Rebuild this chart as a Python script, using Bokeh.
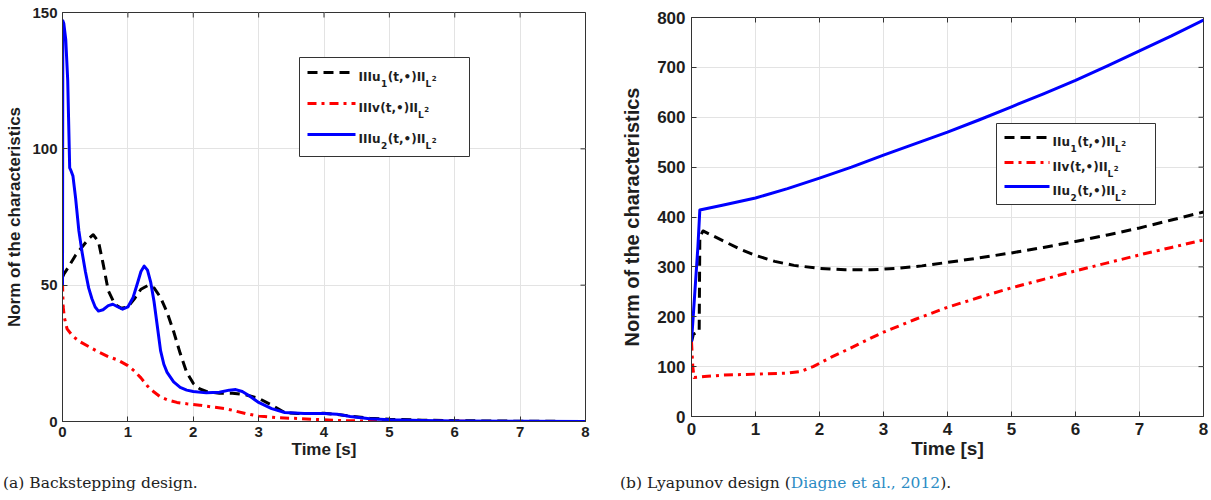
from bokeh.plotting import figure
from bokeh.models import Range1d, FixedTicker, Div
from bokeh.layouts import row, column
from bokeh.core.properties import value
from bokeh.embed import file_html
from bokeh.resources import INLINE

# ---------------- data: (a) Backstepping design ----------------
ta_u1 = [0.0, 0.02, 0.1, 0.2, 0.3, 0.4, 0.47, 0.55, 0.62, 0.7, 0.8, 0.9, 1.0, 1.1, 1.2, 1.3, 1.4,
         1.5, 1.6, 1.7, 1.8, 1.9, 2.0, 2.1, 2.2, 2.4, 2.6, 2.8, 3.0, 3.2, 3.4, 3.6, 4.0, 4.2, 4.4,
         4.7, 5.0, 5.5, 6.0, 7.0, 8.0]
a_u1 = [53, 54, 57, 61, 64, 67, 68.5, 66, 58, 48, 43, 41.5, 42, 45, 48.5, 49.8, 49, 45.5, 40, 33,
        25, 18, 14, 12, 11, 10.4, 10.4, 9.8, 8.5, 6, 3.3, 2.9, 3.0, 2.6, 2.0, 1.2, 0.8, 0.5, 0.3,
        0.1, 0.0]

ta_u2 = [0.0, 0.005, 0.02, 0.05, 0.08, 0.11, 0.13, 0.16, 0.2, 0.25, 0.3, 0.35, 0.4, 0.45, 0.5,
         0.55, 0.62, 0.7, 0.77, 0.85, 0.92, 1.0, 1.08, 1.15, 1.2, 1.25, 1.3, 1.35, 1.4, 1.45, 1.5,
         1.55, 1.6, 1.7, 1.8, 1.9, 2.0, 2.2, 2.4, 2.55, 2.65, 2.75, 2.85, 3.0, 3.2, 3.4, 3.7, 4.0,
         4.2, 4.4, 4.7, 5.0, 5.5, 6.0, 7.0, 8.0]
a_u2 = [50, 147, 146, 140, 125, 93, 92, 90, 82, 70, 62, 55, 49, 45, 42, 40.5, 41, 42.5, 43, 42,
        41.2, 42, 45.5, 51, 55, 57, 55.5, 51, 44, 35, 26, 21, 18, 14.5, 12.5, 11.5, 11, 10.5, 10.7,
        11.5, 11.7, 11, 9.5, 7, 4.7, 3.3, 2.9, 2.9, 2.7, 1.8, 1.0, 0.6, 0.4, 0.2, 0.1, 0.0]

ta_v = [0.0, 0.01, 0.03, 0.07, 0.15, 0.25, 0.4, 0.55, 0.7, 0.85, 1.0, 1.1, 1.2, 1.3, 1.4, 1.5,
        1.6, 1.75, 1.9, 2.1, 2.3, 2.5, 2.65, 2.8, 3.0, 3.3, 3.6, 4.0, 4.3, 5.0, 6.0, 8.0]
a_v = [51, 42, 38, 34, 31.5, 29.5, 27.5, 25.5, 23.8, 22.5, 20.5, 18.5, 16, 13, 10.8, 9, 8, 7, 6.5,
       6, 5.3, 4.7, 3.8, 2.9, 2, 1.4, 1.1, 0.6, 0.3, 0.1, 0.05, 0.0]

# ---------------- data: (b) Lyapunov design ----------------
tb_u1 = [0.0, 0.03, 0.08, 0.12, 0.13, 0.18, 0.5, 0.75, 1.0, 1.3, 1.6, 2.0, 2.4, 2.8, 3.2, 3.6,
         4.0, 4.5, 5.0, 5.5, 6.0, 6.5, 7.0, 7.5, 8.0]
b_u1 = [150, 165, 168, 170, 360, 372, 352, 336, 323, 311, 303, 297, 294, 294, 297, 302, 309, 318,
        328, 339, 351, 364, 378, 394, 410]

tb_u2 = [0.0, 0.05, 0.1, 0.13, 0.5, 1.0, 1.5, 2.0, 2.5, 3.0, 3.5, 4.0, 4.5, 5.0, 5.5, 6.0, 6.5,
         7.0, 7.5, 8.0]
b_u2 = [150, 245, 340, 414, 424, 438, 457, 478, 500, 524, 547, 570, 595, 621, 647, 674, 703, 733,
        763, 795]

tb_v = [0.0, 0.02, 0.04, 0.2, 0.5, 1.0, 1.5, 1.7, 1.9, 2.2, 2.5, 2.8, 3.0, 3.5, 4.0, 4.5, 5.0,
        5.5, 6.0, 6.5, 7.0, 7.5, 8.0]
b_v = [150, 100, 78, 80, 83, 85, 87, 90, 100, 120, 138, 157, 169, 195, 219, 239, 258, 275, 292,
       308, 324, 339, 354]

# ---------------- ticks / texts ----------------
X_MAX = 8
X_TICKS = [0, 1, 2, 3, 4, 5, 6, 7, 8]
YA_MAX = 150
YA_TICKS = [0, 50, 100, 150]
YB_MAX = 800
YB_TICKS = [0, 100, 200, 300, 400, 500, 600, 700, 800]

XLABEL = "Time [s]"
YLABEL = "Norm of the characteristics"
CAPTION_A = "(a) Backstepping design."
CAPTION_B_PRE = "(b) Lyapunov design ("
CAPTION_B_REF = "Diagne et al., 2012"
CAPTION_B_POST = ")."

# legend label pieces: (text, role) role: m = main, sub = subscript, sup = superscript
LEG_A = [
    ("u1", [("IIIu", "m"), ("1", "sub"), ("(t,•)II", "m"), ("L", "sub"), ("2", "sup")]),
    ("v", [("IIIv", "m"), ("(t,•)II", "m"), ("L", "sub"), ("2", "sup")]),
    ("u2", [("IIIu", "m"), ("2", "sub"), ("(t,•)II", "m"), ("L", "sub"), ("2", "sup")]),
]
LEG_B = [
    ("u1", [("IIu", "m"), ("1", "sub"), ("(t,•)II", "m"), ("L", "sub"), ("2", "sup")]),
    ("v", [("IIv", "m"), ("(t,•)II", "m"), ("L", "sub"), ("2", "sup")]),
    ("u2", [("IIu", "m"), ("2", "sub"), ("(t,•)II", "m"), ("L", "sub"), ("2", "sup")]),
]

# ---------------- styles ----------------
STYLE = {
    "u1": dict(color="#000000", dash="10 6"),
    "v": dict(color="#ff0000", dash="9 5 3 5"),
    "u2": dict(color="#0000ff", dash="solid"),
}
AXIS_COLOR = "#333333"
TEXT_COLOR = "#1e1e1e"
GRID_COLOR = "#e3e3e3"
FONT = "Liberation Sans"
LEG_FONT = "DejaVu Sans"
ROLE_SIZE = {"m": 12, "sub": 9, "sup": 7}
ROLE_DY = {"m": 0.0, "sub": 7.0, "sup": 1.5}   # px downward from row baseline
# DejaVu Sans Bold advance widths (per 1000 em) for legend layout
ADV = {"I": 372, "u": 712, "v": 652, "(": 457, "t": 478, ",": 380, "•": 590, ")": 457,
       "L": 637, "1": 696, "2": 696}
TICK_LEN = 5  # px, inward ticks on the top / right edges


def make_panel(series, ymax, yticks, fw, fh, borders, sizes, standoffs, legend, leg_rows,
               margin=0):
    bl, br, bt, bb = borders
    tick_sz, xlab_sz, ylab_sz = sizes
    p = figure(frame_width=fw, frame_height=fh, title=None,
               x_range=Range1d(0, X_MAX), y_range=Range1d(0, ymax),
               output_backend="svg", toolbar_location=None, margin=margin,
               min_border_left=bl, min_border_right=br, min_border_top=bt, min_border_bottom=bb)
    p.background_fill_color = "white"
    p.border_fill_color = "white"
    p.outline_line_color = AXIS_COLOR
    p.outline_line_width = 1

    sx = X_MAX / fw
    sy = ymax / fh

    def dx(px):
        return px * sx

    def dy(py):
        return ymax - py * sy

    # grid
    p.xgrid.ticker = FixedTicker(ticks=X_TICKS, minor_ticks=[])
    p.ygrid.ticker = FixedTicker(ticks=yticks, minor_ticks=[])
    p.grid.grid_line_color = GRID_COLOR
    p.grid.grid_line_width = 1

    # main axes
    xa, ya = p.xaxis[0], p.yaxis[0]
    xa.ticker = FixedTicker(ticks=X_TICKS, minor_ticks=[])
    ya.ticker = FixedTicker(ticks=yticks, minor_ticks=[])
    for ax in (xa, ya):
        ax.major_tick_in = TICK_LEN
        ax.major_tick_out = 0
        ax.minor_tick_in = 0
        ax.minor_tick_out = 0
        ax.axis_line_color = AXIS_COLOR
        ax.major_tick_line_color = AXIS_COLOR
        ax.major_label_text_font = FONT
        ax.major_label_text_font_style = "bold"
        ax.major_label_text_font_size = f"{tick_sz}px"
        ax.major_label_text_color = TEXT_COLOR
        ax.axis_label_text_font = FONT
        ax.axis_label_text_font_style = "bold"
        ax.axis_label_text_color = TEXT_COLOR
    xa.axis_label = XLABEL
    ya.axis_label = YLABEL
    xa.axis_label_text_font_size = f"{xlab_sz}px"
    ya.axis_label_text_font_size = f"{ylab_sz}px"
    xa.major_label_standoff, xa.axis_label_standoff, ya.major_label_standoff, ya.axis_label_standoff = standoffs

    # inward ticks on the top and right edges of the box
    p.segment(x0=X_TICKS, x1=X_TICKS, y0=[ymax] * len(X_TICKS),
              y1=[dy(TICK_LEN)] * len(X_TICKS), line_color=AXIS_COLOR, line_width=1)
    p.segment(x0=[X_MAX] * len(yticks), x1=[X_MAX - dx(TICK_LEN)] * len(yticks),
              y0=yticks, y1=yticks, line_color=AXIS_COLOR, line_width=1)

    # data lines
    for key, (t, y) in series:
        st = STYLE[key]
        p.line(t, y, line_color=st["color"], line_width=3, line_dash=st["dash"],
               line_join="round")

    # legend (manual, to allow sub/superscripts); positions in px from frame top-left
    box_l, box_r, box_t, box_b, rows_y, samp_l, samp_r, text_l = legend
    p.quad(left=[dx(box_l)], right=[dx(box_r)], top=[dy(box_t)], bottom=[dy(box_b)],
           fill_color="white", line_color=AXIS_COLOR, line_width=1)
    for (key, pieces), ry in zip(leg_rows, rows_y):
        st = STYLE[key]
        p.line([dx(samp_l), dx(samp_r)], [dy(ry), dy(ry)], line_color=st["color"], line_width=3,
               line_dash=st["dash"])
        cx = text_l
        for txt, role in pieces:
            size = ROLE_SIZE[role]
            p.text(x=[dx(cx)], y=[dy(ry + 4 + ROLE_DY[role])], text=[txt],
                   text_font=value(LEG_FONT), text_font_style="bold",
                   text_font_size=f"{size}px", text_color=TEXT_COLOR,
                   text_align="left", text_baseline="alphabetic")
            cx += sum(ADV.get(c, 600) for c in txt) * size / 1000.0 + 0.5
    return p


pa = make_panel(
    [("u1", (ta_u1, a_u1)), ("v", (ta_v, a_v)), ("u2", (ta_u2, a_u2))],
    YA_MAX, YA_TICKS, 523, 409,
    (62, 27, 12, 52), (15, 17, 17), (5, 0, 5, 5),
    (237, 407, 45, 144, [60, 91, 122], 245, 293, 296), LEG_A,
)
pb = make_panel(
    [("u1", (tb_u1, b_u1)), ("v", (tb_v, b_v)), ("u2", (tb_u2, b_u2))],
    YB_MAX, YB_TICKS, 512, 399,
    (79, 7, 12, 52), (17, 19, 20), (6, 0, 6, 11),
    (305, 464, 106, 187, [120, 145, 169], 313, 358, 361), LEG_B,
    margin=(5, 0, 0, 0),
)

cap_style_a = {"font-family": "'DejaVu Serif'", "font-size": "15.5px", "line-height": "20px",
               "color": "#222222", "white-space": "nowrap", "padding-left": "3px"}
cap_style_b = dict(cap_style_a, **{"padding-left": "8px"})
cap_a = Div(text=CAPTION_A, width=612, height=20, margin=0, styles=cap_style_a)
cap_b = Div(text=f'{CAPTION_B_PRE}<span style="color:#2b8cc4">{CAPTION_B_REF}</span>{CAPTION_B_POST}',
            width=598, height=20, margin=0, styles=cap_style_b)

layout = column(row(pa, pb, spacing=0), row(cap_a, cap_b, spacing=0), spacing=0)

with open("out.html", "w") as f:
    f.write(file_html(layout, INLINE))
